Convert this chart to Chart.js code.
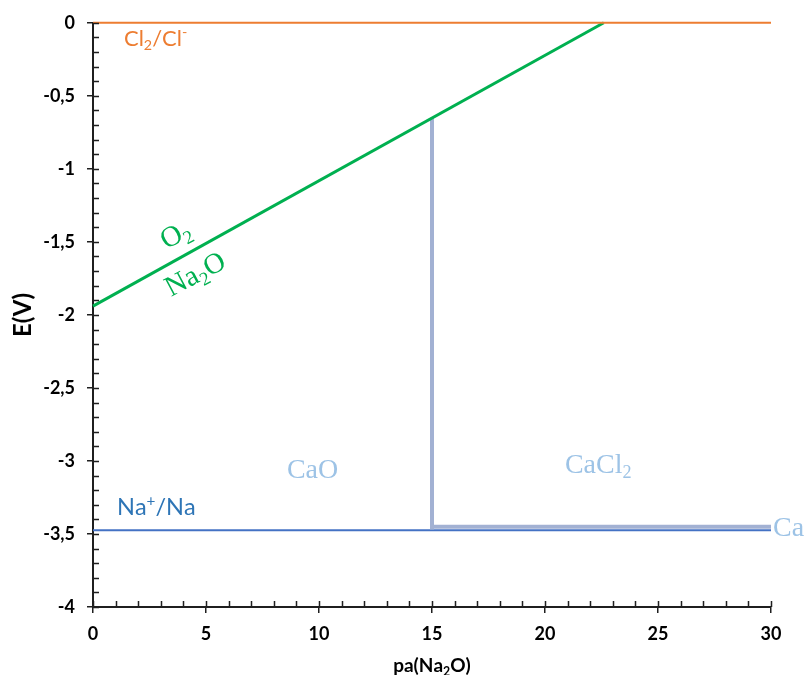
<!DOCTYPE html>
<html>
<head>
<meta charset="utf-8">
<script src="https://cdn.jsdelivr.net/npm/chart.js@4.4.1/dist/chart.umd.min.js"></script>
<style>
  html, body { margin: 0; padding: 0; background: #fff; }
  #wrap { width: 808px; height: 675px; }
</style>
</head>
<body>
<div id="wrap"><canvas id="chart"></canvas></div>
<script>
// Couples redox : x = pa(Na2O), y = E (V)
const clX = [0, 30];
const clY = [0, 0];
const o2X = [0, 22.6];
const o2Y = [-1.94, 0];
const caoX = [15, 15];
const caoY = [-0.65, -3.47];
const caclX = [15, 30];
const caclY = [-3.45, -3.45];
const naX = [0, 30];
const naY = [-3.475, -3.475];

// Annotations (texte, position en unités du graphique)
const labelTexts = ['Cl_2/Cl^-', 'Na^+/Na', 'CaO', 'CaCl_2', 'Ca', 'O_2', 'Na_2O'];
const labelX = [1.37, 1.06, 8.58, 20.88, 30.09, 3.63, 4.51];
const labelY = [-0.157, -3.373, -3.114, -3.08, -3.516, -1.445, -1.717];

function pts(xs, ys) {
    return xs.map((x, i) => ({ x: x, y: ys[i] }));
}

// draw text with _x (subscript) and ^x (superscript)
function drawRich(ctx, str, x, y, size, family, weight, color, center, angle) {
    const parts = [];
    for (let i = 0; i < str.length; i++) {
        const c = str[i];
        if ((c === '_' || c === '^') && i + 1 < str.length) {
            parts.push({ t: str[i + 1], k: c });
            i++;
        } else {
            parts.push({ t: c, k: '' });
        }
    }
    const fnt = s => weight + ' ' + s + 'px ' + family;
    let w = 0;
    parts.forEach(p => {
        ctx.font = fnt(p.k ? size * 0.65 : size);
        p.w = ctx.measureText(p.t).width;
        w += p.w;
    });
    ctx.save();
    ctx.translate(x, y);
    if (angle) ctx.rotate(angle * Math.PI / 180);
    ctx.fillStyle = color;
    ctx.textBaseline = 'alphabetic';
    ctx.textAlign = 'left';
    let cx = center ? -w / 2 : 0;
    const cy = center ? size * 0.33 : 0;
    parts.forEach(p => {
        ctx.font = fnt(p.k ? size * 0.65 : size);
        let dy = 0;
        if (p.k === '_') dy = size * 0.2;
        if (p.k === '^') dy = -size * 0.38;
        ctx.fillText(p.t, cx, cy + dy);
        cx += p.w;
    });
    ctx.restore();
}

const labelStyles = [
    { size: 22, family: 'Lato', weight: 'normal', color: '#ED7D31' },
    { size: 23.5, family: 'Lato', weight: 'normal', color: '#2E75B6' },
    { size: 28, family: '"Liberation Serif"', weight: 'normal', color: '#9DC3E6' },
    { size: 28, family: '"Liberation Serif"', weight: 'normal', color: '#9DC3E6' },
    { size: 28, family: '"Liberation Serif"', weight: 'normal', color: '#9DC3E6' },
    { size: 29, family: '"Liberation Serif"', weight: 'normal', color: '#00B050', center: true, angle: -28 },
    { size: 29, family: '"Liberation Serif"', weight: 'normal', color: '#00B050', center: true, angle: -28 }
];

const extras = {
    id: 'extras',
    afterDraw(chart) {
        const { ctx, chartArea: a, scales: { x, y } } = chart;
        ctx.save();
        // inner ticks (major + minor)
        ctx.strokeStyle = '#1f1f1f';
        ctx.lineWidth = 1.5;
        ctx.beginPath();
        for (let v = 0; v <= 30; v++) {
            const px = Math.round(x.getPixelForValue(v)) + 0.5;
            ctx.moveTo(px, a.bottom);
            ctx.lineTo(px, a.bottom - 6);
        }
        for (let i = 0; i <= 40; i++) {
            const py = Math.round(y.getPixelForValue(-i / 10)) + 0.5;
            ctx.moveTo(a.left, py);
            ctx.lineTo(a.left + 6, py);
        }
        ctx.stroke();
        ctx.restore();

        labelTexts.forEach((t, i) => {
            const s = labelStyles[i];
            drawRich(ctx, t, x.getPixelForValue(labelX[i]), y.getPixelForValue(labelY[i]),
                s.size, s.family, s.weight, s.color, s.center, s.angle);
        });

        // x axis title
        drawRich(ctx, 'pa(Na_2O)', (a.left + a.right) / 2, 666,
            19, 'Lato', 'bold', '#000', true, 0);
    }
};

const ctx = document.getElementById('chart').getContext('2d');
new Chart(ctx, {
    type: 'scatter',
    data: {
        datasets: [
            { data: pts(clX, clY), borderColor: '#ED7D31', borderWidth: 2 },
            { data: pts(o2X, o2Y), borderColor: '#00B050', borderWidth: 3 },
            { data: pts(caoX, caoY), borderColor: '#A2B1D3', borderWidth: 4 },
            { data: pts(caclX, caclY), borderColor: '#A2B1D3', borderWidth: 4 },
            { data: pts(naX, naY), borderColor: '#4472C4', borderWidth: 2 }
        ].map(d => Object.assign(d, { showLine: true, pointRadius: 0, fill: false, clip: false }))
    },
    options: {
        responsive: true,
        maintainAspectRatio: false,
        animation: false,
        layout: { padding: { left: 0, right: 37, top: 20, bottom: 0 } },
        plugins: { legend: { display: false }, tooltip: { enabled: false } },
        scales: {
            x: {
                type: 'linear',
                min: 0, max: 30,
                ticks: { stepSize: 5, color: '#000', padding: 10, font: { family: 'Lato', size: 18, weight: 'bold' } },
                grid: { drawOnChartArea: false, tickLength: 6, color: '#1f1f1f', lineWidth: 1.5 },
                border: { color: '#1f1f1f', width: 2 },
                afterFit(scale) { scale.height = 68; }
            },
            y: {
                type: 'linear',
                min: -4, max: 0,
                ticks: {
                    stepSize: 0.5, color: '#000', padding: 12,
                    font: { family: 'Lato', size: 18, weight: 'bold' },
                    callback: v => String(v).replace('.', ',')
                },
                grid: { drawOnChartArea: false, tickLength: 6, color: '#1f1f1f', lineWidth: 1.5 },
                border: { color: '#1f1f1f', width: 2 },
                title: { display: true, text: 'E(V)', color: '#000', padding: { top: 9, bottom: 0 }, font: { family: 'Lato', size: 24, weight: 'bold' } },
                afterFit(scale) { scale.width = 93; }
            }
        }
    },
    plugins: [extras]
});
</script>
</body>
</html>
